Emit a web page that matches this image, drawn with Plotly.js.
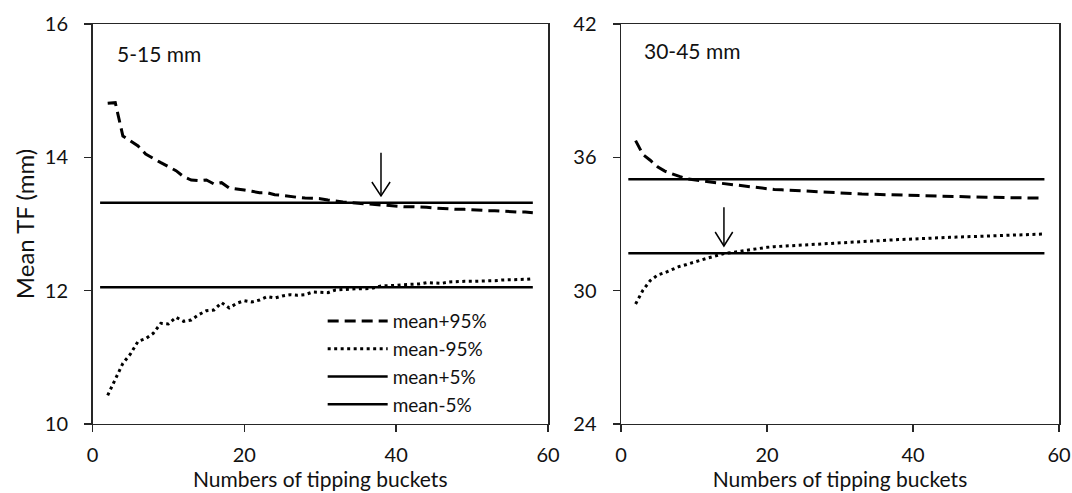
<!DOCTYPE html>
<html>
<head>
<meta charset="utf-8">
<script src="https://cdn.plot.ly/plotly-3.0.1.min.js"></script>
<style>html,body{margin:0;padding:0;background:#fff;}#chart{width:1072px;height:493px;}</style>
</head>
<body>
<div id="chart"></div>
<script>
// Numbers of tipping buckets
var buckets = [2,3,4,5,6,7,8,9,10,11,12,13,14,15,16,17,18,19,20,21,22,23,24,25,26,27,28,29,30,
  31,32,33,34,35,36,37,38,39,40,41,42,43,44,45,46,47,48,49,50,51,52,53,54,55,56,57,58];
var lineX = [1, 58];

// Panel 5-15 mm
var leftPlus95 = [14.81,14.82,14.32,14.24,14.17,14.05,13.98,13.92,13.86,13.80,13.71,13.66,13.65,13.66,13.60,13.62,13.54,13.53,13.51,13.49,13.47,13.47,13.44,13.43,13.41,13.40,13.39,13.39,13.38,
  13.36,13.34,13.33,13.32,13.31,13.30,13.29,13.28,13.27,13.27,13.26,13.26,13.26,13.25,13.24,13.23,13.23,13.22,13.22,13.21,13.21,13.20,13.20,13.19,13.19,13.18,13.18,13.17];
var leftMinus95 = [10.43,10.68,10.91,11.05,11.24,11.28,11.36,11.51,11.50,11.60,11.54,11.56,11.64,11.70,11.71,11.82,11.74,11.81,11.85,11.83,11.86,11.91,11.89,11.92,11.94,11.93,11.94,11.98,11.98,
  11.97,12.01,12.02,12.02,12.03,12.03,12.04,12.07,12.07,12.08,12.09,12.09,12.10,12.12,12.11,12.11,12.13,12.14,12.14,12.14,12.14,12.15,12.15,12.16,12.16,12.17,12.17,12.18];
var leftPlus5 = [13.32, 13.32];
var leftMinus5 = [12.05, 12.05];
var leftArrow = {x: 38, from: 14.07, to: 13.42};

// Panel 30-45 mm
var rightPlus95 = [36.75,36.13,35.87,35.58,35.38,35.25,35.14,35.04,34.98,34.94,34.90,34.86,34.82,34.78,34.73,34.69,34.64,34.60,34.57,34.55,34.54,34.52,34.50,34.48,34.46,34.44,34.42,34.40,34.38,
  34.37,34.36,34.35,34.34,34.33,34.32,34.31,34.30,34.28,34.27,34.26,34.25,34.25,34.24,34.23,34.22,34.22,34.21,34.21,34.20,34.20,34.19,34.19,34.18,34.18,34.17,34.16,34.16];
var rightMinus95 = [29.40,30.02,30.45,30.70,30.81,30.96,31.09,31.18,31.29,31.38,31.48,31.57,31.66,31.71,31.76,31.82,31.87,31.91,31.95,31.98,32.00,32.02,32.05,32.07,32.09,32.11,32.13,32.15,32.17,
  32.19,32.21,32.22,32.24,32.25,32.27,32.28,32.30,32.31,32.33,32.34,32.35,32.37,32.38,32.40,32.41,32.42,32.44,32.45,32.46,32.48,32.49,32.50,32.51,32.52,32.53,32.54,32.55];
var rightPlus5 = [35.01, 35.01];
var rightMinus5 = [31.68, 31.68];
var rightArrow = {x: 14.1, from: 33.75, to: 32.01};

var seriesNames = ['mean+95%', 'mean-95%', 'mean+5%', 'mean-5%'];
var panelLabels = ['5-15 mm', '30-45 mm'];
var xTitle = 'Numbers of tipping buckets';
var yTitle = 'Mean TF (mm)';

var FONT = 'Lato, "Open Sans", sans-serif';
var DASH = '11px,6px';
var DOT = '3px,3.5px';

function mk(x, y, name, dash, w, xa, ya, show) {
  return {x: x, y: y, name: name, type: 'scatter', mode: 'lines', xaxis: xa, yaxis: ya,
    showlegend: show, hoverinfo: 'skip',
    line: {color: '#000', width: w, dash: dash}};
}

var traces = [
  mk(buckets, leftPlus95, seriesNames[0], DASH, 3, 'x', 'y', true),
  mk(buckets, leftMinus95, seriesNames[1], DOT, 3, 'x', 'y', true),
  mk(lineX, leftPlus5, seriesNames[2], 'solid', 2.5, 'x', 'y', true),
  mk(lineX, leftMinus5, seriesNames[3], 'solid', 2.5, 'x', 'y', true),
  mk(buckets, rightPlus95, seriesNames[0], DASH, 3, 'x2', 'y2', false),
  mk(buckets, rightMinus95, seriesNames[1], DOT, 3, 'x2', 'y2', false),
  mk(lineX, rightPlus5, seriesNames[2], 'solid', 2.5, 'x2', 'y2', false),
  mk(lineX, rightMinus5, seriesNames[3], 'solid', 2.5, 'x2', 'y2', false)
];

function arrowShapes(a, xr, yr, hw, hh) {
  return [
    {type: 'line', xref: xr, yref: yr, x0: a.x, x1: a.x, y0: a.from, y1: a.to, line: {color: '#000', width: 1.5}},
    {type: 'path', xref: xr, yref: yr,
      path: 'M' + (a.x - hw) + ',' + (a.to + hh) + ' L' + a.x + ',' + a.to + ' L' + (a.x + hw) + ',' + (a.to + hh),
      line: {color: '#000', width: 1.5}}
  ];
}

var axCommon = {
  showline: true, linecolor: '#262626', linewidth: 1.5, mirror: true,
  ticks: 'outside', ticklen: 7, tickwidth: 1.5, tickcolor: '#262626',
  showgrid: false, zeroline: false, fixedrange: true,
  tickfont: {family: FONT, size: 20, color: '#111'}
};
function ax(extra) { return Object.assign({}, axCommon, extra); }

var layout = {
  width: 1072, height: 493,
  margin: {l: 0, r: 0, t: 0, b: 0},
  paper_bgcolor: '#fff', plot_bgcolor: '#fff',
  font: {family: FONT, size: 21, color: '#111'},
  showlegend: true,
  legend: {x: 0.301, y: 0.387, xanchor: 'left', yanchor: 'top', bgcolor: 'rgba(0,0,0,0)',
    font: {family: FONT, size: 19, color: '#111'}, itemwidth: 60, tracegroupgap: 0},
  xaxis: ax({domain: [0.0863, 0.5112], range: [0, 60], tickvals: [0, 20, 40, 60], anchor: 'y',
    ticklabelstandoff: 6,
    title: {text: xTitle, font: {family: FONT, size: 21, color: '#111'}, standoff: 7}}),
  yaxis: ax({domain: [0.14, 0.9513], range: [10, 16], tickvals: [10, 12, 14, 16], anchor: 'x',
    ticklabelstandoff: 12,
    title: {text: yTitle, font: {family: FONT, size: 24, color: '#111'}, standoff: 3}}),
  xaxis2: ax({domain: [0.5793, 0.9879], range: [0, 60], tickvals: [0, 20, 40, 60], anchor: 'y2',
    ticklabelstandoff: 6,
    title: {text: xTitle, font: {family: FONT, size: 21, color: '#111'}, standoff: 7}}),
  yaxis2: ax({domain: [0.14, 0.9513], range: [24, 42], tickvals: [24, 30, 36, 42], anchor: 'x2',
    ticklabelstandoff: 12}),
  annotations: [
    {text: panelLabels[0], xref: 'x', yref: 'y', x: 2.96, y: 15.565, xanchor: 'left', yanchor: 'middle', showarrow: false,
      font: {family: FONT, size: 21, color: '#111'}},
    {text: panelLabels[1], xref: 'x2', yref: 'y2', x: 2.9, y: 40.83, xanchor: 'left', yanchor: 'middle', showarrow: false,
      font: {family: FONT, size: 21, color: '#111'}}
  ],
  shapes: [].concat(
    arrowShapes(leftArrow, 'x', 'y', 1.2, 0.21),
    arrowShapes(rightArrow, 'x2', 'y2', 1.2, 0.63)
  )
};

Plotly.newPlot('chart', traces, layout, {displayModeBar: false, staticPlot: true});
</script>
</body>
</html>
